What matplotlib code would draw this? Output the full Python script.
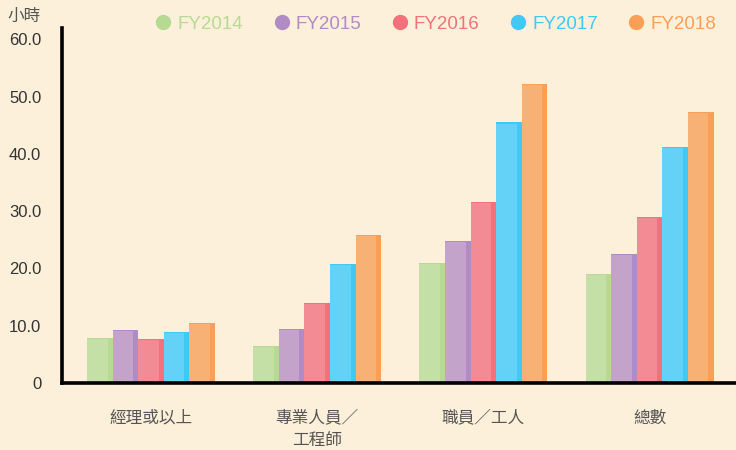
import matplotlib
matplotlib.use("Agg")
import matplotlib.pyplot as plt
import numpy as np
from matplotlib.lines import Line2D

categories = ["經理或以上", "專業人員／\n工程師", "職員／工人", "總數"]
series = ["FY2014", "FY2015", "FY2016", "FY2017", "FY2018"]
fy2014 = [7.8, 6.5, 20.9, 19.0]
fy2015 = [9.2, 9.4, 24.8, 22.5]
fy2016 = [7.7, 14.0, 31.6, 29.0]
fy2017 = [8.9, 20.8, 45.5, 41.2]
fy2018 = [10.5, 25.8, 52.2, 47.3]
values = [fy2014, fy2015, fy2016, fy2017, fy2018]
yticks = [0, 10, 20, 30, 40, 50, 60]
ytick_labels = ["0", "10.0", "20.0", "30.0", "40.0", "50.0", "60.0"]

light = ["#C5E0A6", "#C4A3CB", "#F38B95", "#64D1F7", "#F8B175"]
dark = ["#B7DA93", "#B18BC3", "#F2717A", "#42C8F5", "#FB9F56"]
bg = "#FDF0DA"

plt.rcParams['font.family'] = ['Liberation Sans', 'Noto Sans CJK TC', 'DejaVu Sans']

fig = plt.figure(figsize=(7.36, 4.5), dpi=100, facecolor=bg)
W, H = 736, 450
ax = fig.add_axes([62 / W, (H - 383) / H, (W - 62) / W, (383 - 28) / H])
ax.set_facecolor(bg)

x = np.arange(len(categories))
bw = 0.154
n = len(series)
for i, (vals, lc, dc) in enumerate(zip(values, light, dark)):
    off = (i - (n - 1) / 2) * bw
    xs = x + off
    v = np.array(vals)
    ax.bar(xs, v, width=bw, color=dc, linewidth=0, zorder=2)
    ax.bar(xs - bw * 0.1, v - 0.18, width=bw * 0.8, color=lc, linewidth=0, zorder=3)

ax.set_xlim(-0.536, 3.52)
ax.set_ylim(0, 62)
ax.set_yticks(yticks)
ax.set_yticklabels(ytick_labels)
ax.set_xticks(x)
ax.set_xticklabels(categories, linespacing=1.45)
ax.tick_params(axis='y', length=0, pad=15, labelsize=12, labelcolor="#333333")
ax.tick_params(axis='x', length=0, pad=19, labelsize=12, labelcolor="#555555")
for lab in ax.get_xticklabels():
    lab.set_family(['Noto Sans CJK TC', 'DejaVu Sans'])
for s in ['top', 'right']:
    ax.spines[s].set_visible(False)
for s in ['left', 'bottom']:
    ax.spines[s].set_linewidth(2.6)
    ax.spines[s].set_color("black")
    ax.spines[s].set_zorder(5)

fig.text(7 / W, 1 - 16 / H, "小時", family=['Noto Sans CJK TC', 'DejaVu Sans'],
         fontsize=12, color="#555555", ha='left', va='center')

handles = [Line2D([], [], marker='o', linestyle='none', markersize=10,
                  markerfacecolor=c, markeredgecolor=c) for c in dark]
leg = fig.legend(handles, series, loc='center left', bbox_to_anchor=(155 / W, 1 - 24 / H),
                 ncol=5, frameon=False, fontsize=13.5, handletextpad=0.3,
                 columnspacing=1.6, handlelength=0.9, borderaxespad=0, borderpad=0,
                 labelcolor=dark)

fig.savefig("out.png", dpi=100, facecolor=bg)
